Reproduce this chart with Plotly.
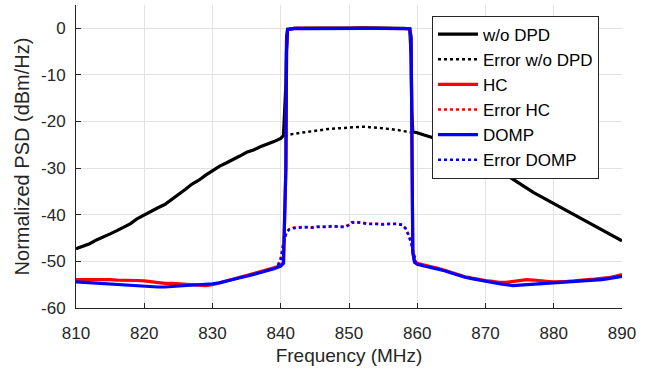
import plotly.graph_objects as go

# ---------------- data ----------------
f_left = [810, 811, 812, 813, 814, 815, 816, 817, 818, 819, 820, 821, 822, 823, 824, 825,
          826, 827, 828, 829, 830, 831, 832, 833, 834, 835, 836, 837, 838, 839, 840]
f_band = [840.4, 840.75, 840.85, 841.0, 842, 844, 846, 848, 850, 852, 854, 856, 858,
          858.9, 859.1, 859.2, 859.35, 859.6]
f_right = [860, 861, 862, 863, 864, 865, 866, 867, 868, 869, 870, 871, 872, 873, 874, 875,
           876, 877, 878, 879, 880, 881, 882, 883, 884, 885, 886, 887, 888, 889, 890]

wo_left = [-47.3, -46.7, -46.2, -45.4, -44.8, -44.1, -43.4, -42.6, -41.9, -40.8, -40.0,
           -39.3, -38.5, -37.8, -36.8, -35.6, -34.6, -33.4, -32.6, -31.5, -30.5, -29.6,
           -28.9, -28.2, -27.4, -26.6, -26.1, -25.4, -24.9, -24.3, -23.6]
wo_band = [-23.0, -12.0, -2.0, -0.2, 0.0, 0.05, 0.0, 0.1, 0.05, 0.1, 0.1, 0.05, 0.0,
           -0.1, -6.0, -18.0, -22.3, -22.3]
wo_right = [-22.4, -22.9, -23.3, -23.8, -24.5, -25.1, -25.8, -26.5, -27.2, -28.0, -28.8,
            -29.6, -30.4, -31.4, -32.4, -33.4, -34.4, -35.2, -36.0, -36.8, -37.6, -38.4,
            -39.3, -40.1, -40.9, -41.7, -42.4, -43.2, -44.0, -44.8, -45.6]

hc_left = [-53.9, -53.9, -53.8, -53.9, -53.9, -53.9, -54.0, -54.0, -54.1, -54.1, -54.2,
           -54.4, -54.6, -54.7, -54.7, -54.8, -55.0, -55.1, -55.2, -55.2, -55.0, -54.6,
           -54.1, -53.7, -53.3, -53.0, -52.6, -52.2, -51.8, -51.4, -50.8]
hc_band = [-50.2, -30.0, -5.0, -0.3, 0.0, 0.0, -0.05, 0.05, 0.0, 0.05, 0.0, 0.0, 0.0,
           -0.1, -2.0, -25.0, -48.0, -50.0]
hc_right = [-50.4, -50.8, -51.1, -51.5, -51.9, -52.4, -52.9, -53.3, -53.6, -53.9, -54.1,
            -54.3, -54.5, -54.5, -54.3, -54.0, -53.9, -54.0, -54.2, -54.3, -54.4, -54.4,
            -54.3, -54.2, -54.0, -53.9, -53.8, -53.7, -53.5, -53.2, -52.8]

domp_left = [-54.4, -54.5, -54.6, -54.6, -54.8, -54.9, -55.0, -55.0, -55.1, -55.2, -55.3,
             -55.4, -55.5, -55.5, -55.4, -55.4, -55.3, -55.2, -55.1, -55.0, -54.8, -54.6,
             -54.2, -53.9, -53.5, -53.2, -52.8, -52.4, -52.1, -51.6, -51.0]
domp_band = [-50.4, -30.0, -5.0, -0.3, 0.0, -0.05, 0.0, 0.0, -0.05, 0.0, 0.0, -0.05, 0.0,
             -0.1, -2.0, -25.0, -48.0, -50.2]
domp_right = [-50.6, -51.0, -51.3, -51.6, -52.0, -52.5, -53.0, -53.4, -53.7, -54.0, -54.2,
              -54.5, -54.8, -55.0, -55.2, -55.1, -55.0, -55.0, -54.9, -54.7, -54.6, -54.5,
              -54.4, -54.3, -54.2, -54.1, -54.0, -53.9, -53.7, -53.5, -53.2]

f_err_wo = [840.6, 841, 842, 843, 844, 845, 846, 847, 848, 849, 850, 851, 852, 853, 854,
            855, 856, 857, 858, 859]
err_wo = [-23.2, -22.9, -22.6, -22.4, -22.1, -22.0, -21.8, -21.6, -21.5, -21.4, -21.3,
          -21.2, -21.1, -21.2, -21.3, -21.4, -21.6, -21.8, -22.0, -22.3]

f_err = [839.6, 840.0, 840.4, 840.8, 841.2, 841.8, 842.5, 843.5, 844.5, 845.5, 846.5,
         847.5, 848.5, 849.5, 850.0, 850.4, 851, 852, 853, 854, 855, 856, 857, 857.8,
         858.3, 858.7, 859.1, 859.5, 859.8]
err_hc = [-50.8, -49.3, -46.0, -43.9, -43.1, -42.8, -42.7, -42.6, -42.7, -42.5, -42.5,
          -42.4, -42.5, -42.5, -42.1, -41.6, -41.5, -41.7, -41.9, -41.9, -42.0, -41.9,
          -41.9, -42.1, -42.9, -44.2, -45.9, -48.4, -50.1]
err_domp = [-50.9, -49.5, -46.2, -44.0, -43.2, -42.9, -42.8, -42.7, -42.8, -42.6, -42.6,
            -42.5, -42.6, -42.6, -42.2, -41.7, -41.6, -41.8, -42.0, -42.0, -42.1, -42.0,
            -42.0, -42.2, -43.0, -44.3, -46.0, -48.5, -50.3]

x_ticks = [810, 820, 830, 840, 850, 860, 870, 880, 890]
y_ticks = [-60, -50, -40, -30, -20, -10, 0]

# ---------------- figure ----------------
f_full = f_left + f_band + f_right
FONT = "Liberation Sans, Arial, Helvetica, sans-serif"

fig = go.Figure()
fig.add_trace(go.Scatter(x=f_full, y=wo_left + wo_band + wo_right, mode="lines",
                         name="w/o DPD", line=dict(color="black", width=3.2)))
fig.add_trace(go.Scatter(x=f_err_wo, y=err_wo, mode="lines", name="Error w/o DPD",
                         line=dict(color="black", width=2.5, dash="dot")))
fig.add_trace(go.Scatter(x=f_full, y=hc_left + hc_band + hc_right, mode="lines",
                         name="HC", line=dict(color="#ff0000", width=3.2)))
fig.add_trace(go.Scatter(x=f_err, y=err_hc, mode="lines", name="Error HC",
                         line=dict(color="#ff0000", width=2.5, dash="dot")))
fig.add_trace(go.Scatter(x=f_full, y=domp_left + domp_band + domp_right, mode="lines",
                         name="DOMP", line=dict(color="#0000ff", width=3.2)))
fig.add_trace(go.Scatter(x=f_err, y=err_domp, mode="lines", name="Error DOMP",
                         line=dict(color="#0000ff", width=2.5, dash="dot")))

axis_common = dict(
    showgrid=True, gridcolor="#e2e2e2", gridwidth=1, zeroline=False,
    showline=True, linecolor="#262626", linewidth=1,
    ticks="inside", ticklen=5, tickcolor="#262626", tickwidth=1,
    tickfont=dict(family=FONT, size=17, color="#262626"),
)

fig.update_layout(
    width=649, height=372,
    margin=dict(l=76, r=27, t=5, b=64),
    paper_bgcolor="white", plot_bgcolor="white",
    font=dict(family=FONT, color="#262626"),
    xaxis=dict(range=[810, 890], tickvals=x_ticks, ticktext=[str(v) for v in x_ticks],
               ticklabelstandoff=10,
               title=dict(text="Frequency (MHz)", font=dict(family=FONT, size=19, color="#262626"),
                          standoff=6),
               **axis_common),
    yaxis=dict(range=[-60, 5], tickvals=y_ticks, ticktext=[str(v) for v in y_ticks],
               ticklabelstandoff=6,
               title=dict(text="Normalized PSD (dBm/Hz)", font=dict(family=FONT, size=20, color="#262626"),
                          standoff=6),
               **axis_common),
    legend=dict(x=0.652, y=0.965, xanchor="left", yanchor="top",
                bgcolor="white", bordercolor="#262626", borderwidth=1,
                font=dict(family=FONT, size=17, color="black"),
                tracegroupgap=0, itemwidth=40),
    showlegend=True,
)

fig.write_html("out.html", config={"displayModeBar": False},
               post_script="document.body.style.margin='0px';document.body.style.padding='0px';")
